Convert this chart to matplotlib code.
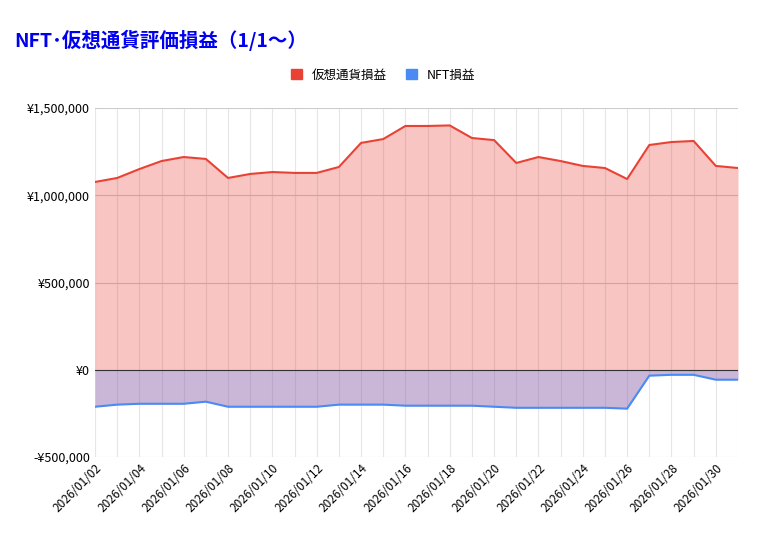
import matplotlib
matplotlib.use("Agg")
import matplotlib.pyplot as plt
import matplotlib.ticker as mt
import pandas as pd

plt.rcParams['font.family'] = ['Noto Sans CJK JP', 'DejaVu Sans']

dates = pd.date_range("2026-01-02", "2026-01-31").strftime("%Y/%m/%d").tolist()
crypto = [1076000, 1099000, 1150000, 1196000, 1219000, 1208000, 1099000, 1122000, 1133000, 1128000,
          1128000, 1162000, 1300000, 1322000, 1397000, 1397000, 1400000, 1328000, 1316000, 1185000,
          1219000, 1196000, 1168000, 1156000, 1093000, 1288000, 1305000, 1311000, 1168000, 1156000]
nft = [-212000, -200000, -195000, -195000, -195000, -183000, -212000, -212000, -212000, -212000,
       -212000, -200000, -200000, -200000, -206000, -206000, -206000, -206000, -212000, -218000,
       -218000, -218000, -218000, -218000, -223000, -34000, -29000, -29000, -57000, -57000]

red = '#e94235'
blue = '#4a8af4'
fig = plt.figure(figsize=(7.66, 5.39), dpi=100)
ax = fig.add_axes([95/766, 1-457/539, (738-95)/766, (457-108)/539])
x = list(range(len(dates)))
ax.fill_between(x, crypto, 0, color=red, alpha=0.3, lw=0)
ax.fill_between(x, nft, 0, color='#8a5ea8', alpha=0.45, lw=0)
ax.plot(x, crypto, color=red, lw=1.5, label='仮想通貨損益')
ax.plot(x, nft, color=blue, lw=1.5, label='NFT損益')
ax.axhline(0, color='#333333', lw=0.8)
ax.set_xlim(0, len(x)-1)
ax.set_ylim(-500000, 1500000)
ax.set_yticks([-500000, 0, 500000, 1000000, 1500000])
ax.yaxis.set_major_formatter(mt.FuncFormatter(lambda v, p: ('-' if v < 0 else '') + '¥{:,.0f}'.format(abs(v))))
ax.set_xticks(x, minor=True)
ax.set_xticks(x[::2])
ax.set_xticklabels(dates[::2], rotation=45, ha='right', rotation_mode='anchor', fontsize=8.5)
ax.tick_params(axis='y', labelsize=9, length=0)
ax.tick_params(axis='x', which='both', length=0)
ax.grid(True, axis='y', color='#cccccc', lw=0.8)
ax.grid(True, axis='x', which='both', color='#e6e6e6', lw=0.8)
ax.set_axisbelow(True)
for s in ax.spines.values():
    s.set_visible(False)
h = [plt.Rectangle((0, 0), 1, 1, color=red), plt.Rectangle((0, 0), 1, 1, color=blue)]
fig.legend(h, ['仮想通貨損益', 'NFT損益'], loc='center', bbox_to_anchor=(0.5, 1-75/539), ncol=2,
           frameon=False, fontsize=9, handlelength=0.9, handleheight=0.9, columnspacing=1.5)
fig.text(14/766, 1-40/539, 'NFT･仮想通貨評価損益（1/1～）', color='#0000ee', fontsize=14,
         fontweight='bold', style='italic', va='center')
fig.savefig('out.png', dpi=100, facecolor='white')
